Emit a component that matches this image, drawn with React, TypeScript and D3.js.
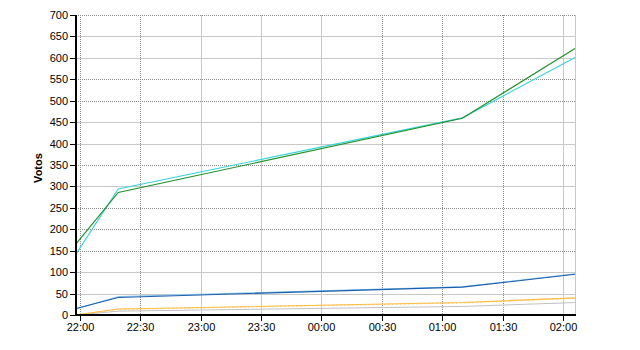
import React from "react";
import * as d3 from "d3";

const times = ["21:58", "22:19", "01:10", "02:06"];
const greenVals = [166, 286, 459, 622];
const cyanVals = [142, 294, 460, 601];
const blueVals = [15, 41, 65, 95];
const lightBlueVals = [14, 43, 66, 96];
const orangeVals = [0, 14, 29, 40];
const goldVals = [1, 13, 28, 39];
const grayVals = [0, 9, 20, 29];
const yTicks = [0, 50, 100, 150, 200, 250, 300, 350, 400, 450, 500, 550, 600, 650, 700];
const xTickLabels = ["22:00", "22:30", "23:00", "23:30", "00:00", "00:30", "01:00", "01:30", "02:00"];
const yDotted = [700, 550, 500, 350, 250, 200, 150];
const xDotted = ["22:00", "22:30", "00:30", "01:00", "01:30"];

function toDate(s: string): Date {
  const [h, m] = s.split(":").map(Number);
  const day = h < 12 ? 2 : 1;
  return new Date(2000, 0, day, h, m);
}

const W = 640, H = 350;
const left = 76, right = 575, top = 15, bottom = 315;

export default function App() {
  const x = d3.scaleTime().domain([toDate(times[0]), toDate(times[times.length - 1])]).range([left, right]);
  const y = d3.scaleLinear().domain([0, 700]).range([bottom, top]);
  const dates = times.map(toDate);
  const line = (vals: number[]) =>
    d3.line<number>().x((_, i) => x(dates[i])).y((v) => y(v))(vals) || "";

  const series = [
    { vals: grayVals, color: "#c0c0c0", w: 1, dash: "" },
    { vals: goldVals, color: "#ffd070", w: 1, dash: "2,2" },
    { vals: orangeVals, color: "#ffbb44", w: 1.1, dash: "" },
    { vals: lightBlueVals, color: "#88c4ea", w: 1, dash: "" },
    { vals: blueVals, color: "#1a5fae", w: 1.1, dash: "" },
    { vals: cyanVals, color: "#38d4dc", w: 1.1, dash: "" },
    { vals: greenVals, color: "#23922a", w: 1.2, dash: "" },
  ];

  const font = "'Liberation Sans', Arial, sans-serif";

  return (
    <svg width={W} height={H} style={{ position: "absolute", left: 0, top: 0, background: "#fff" }}>
      <rect x={0} y={0} width={W} height={H} fill="#fff" />
      {/* horizontal grid */}
      {yTicks.filter((t) => t > 0).map((t) => {
        const yy = Math.round(y(t)) + 0.5;
        const dotted = yDotted.includes(t);
        return (
          <line key={"h" + t} x1={left} x2={right} y1={yy} y2={yy}
            stroke={dotted ? "#8a8a8a" : "#c8c8c8"} strokeDasharray={dotted ? "1,1" : ""}
            shapeRendering="crispEdges" />
        );
      })}
      {/* vertical grid */}
      {xTickLabels.map((t) => {
        const xx = Math.round(x(toDate(t))) + 0.5;
        const dotted = xDotted.includes(t);
        return (
          <line key={"v" + t} x1={xx} x2={xx} y1={top} y2={bottom}
            stroke={dotted ? "#8a8a8a" : "#c8c8c8"} strokeDasharray={dotted ? "1,1" : ""}
            shapeRendering="crispEdges" />
        );
      })}
      <line x1={right + 0.5} x2={right + 0.5} y1={top} y2={bottom} stroke="#c8c8c8" shapeRendering="crispEdges" />
      {/* series */}
      {series.map((s, i) => (
        <path key={i} d={line(s.vals)} fill="none" stroke={s.color} strokeWidth={s.w}
          strokeDasharray={s.dash} />
      ))}
      {/* axes */}
      <line x1={left} x2={left} y1={top - 0.5} y2={bottom + 1} stroke="#000" strokeWidth={2} shapeRendering="crispEdges" />
      <line x1={left - 1} x2={right + 1} y1={bottom + 0} y2={bottom + 0} stroke="#000" strokeWidth={2} shapeRendering="crispEdges" />
      {yTicks.map((t) => {
        const yy = Math.round(y(t)) + 0.5;
        return (
          <g key={"yt" + t}>
            <line x1={70} x2={left} y1={yy} y2={yy} stroke="#000" shapeRendering="crispEdges" />
            <text x={68} y={yy} dy="0.35em" textAnchor="end" fontFamily={font} fontSize={11} fill="#000">{t}</text>
          </g>
        );
      })}
      {xTickLabels.map((t) => {
        const xx = Math.round(x(toDate(t))) + 0.5;
        return (
          <g key={"xt" + t}>
            <line x1={xx} x2={xx} y1={bottom} y2={bottom + 6} stroke="#000" shapeRendering="crispEdges" />
            <text x={xx} y={331} textAnchor="middle" fontFamily={font} fontSize={11} fill="#000">{t}</text>
          </g>
        );
      })}
      <text transform={`translate(42,${(top + bottom) / 2 + 3}) rotate(-90)`} textAnchor="middle"
        fontFamily={font} fontSize={11} fontWeight="bold" fill="#000">Votos</text>
    </svg>
  );
}
